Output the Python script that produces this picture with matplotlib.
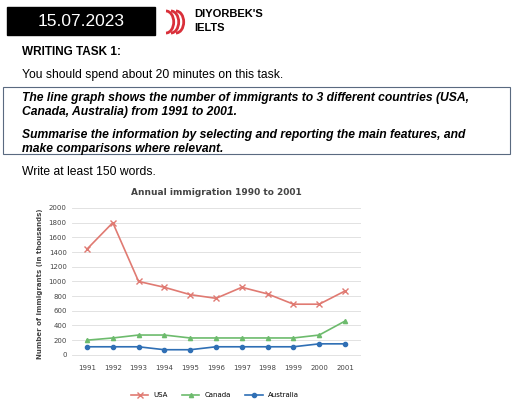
import matplotlib
matplotlib.use("Agg")
import matplotlib.pyplot as plt
from matplotlib.patches import Rectangle, Arc

years = [1991, 1992, 1993, 1994, 1995, 1996, 1997, 1998, 1999, 2000, 2001]
usa = [1440, 1800, 1000, 920, 820, 770, 920, 830, 690, 690, 870]
canada = [200, 230, 270, 270, 230, 230, 230, 230, 230, 270, 460]
australia = [110, 110, 110, 70, 70, 110, 110, 110, 110, 150, 150]
yticks = list(range(0, 2001, 200))

W, H = 512, 405
fig = plt.figure(figsize=(W/100, H/100), dpi=100)
fig.patch.set_facecolor("white")

def fx(x): return x / W
def fy(y): return 1 - y / H

# header
fig.patches.append(Rectangle((fx(7), fy(35)), fx(148), 28/H, transform=fig.transFigure, color="black"))
fig.text(fx(81), fy(21), "15.07.2023", color="white", fontsize=12.5, ha="center", va="center", family="Liberation Sans")
for cx, r in [(166, 11), (171, 11), (176, 11)]:
    fig.patches.append(Arc((fx(cx), fy(22)), 1.4*r/W, 2*r/H, theta1=-90, theta2=90,
                           transform=fig.transFigure, color="#d9303a", lw=2.0))
fig.text(fx(194), fy(14), "DIYORBEK'S", fontsize=8, fontweight="bold", va="center", family="Liberation Sans")
fig.text(fx(194), fy(28), "IELTS", fontsize=8, fontweight="bold", va="center", family="Liberation Sans")
fig.text(fx(22), fy(52), "WRITING TASK 1:", fontsize=8.5, fontweight="bold", va="center", family="Liberation Sans")
fig.text(fx(22), fy(75), "You should spend about 20 minutes on this task.", fontsize=8.7, va="center", family="Liberation Sans")
fig.patches.append(Rectangle((fx(3), fy(154)), fx(507), 67/H, transform=fig.transFigure,
                             fill=False, ec="#5a6a80", lw=0.8))
kw = dict(fontsize=8.7, fontweight="bold", style="italic", va="center", family="Liberation Sans")
fig.text(fx(22), fy(98), "The line graph shows the number of immigrants to 3 different countries (USA,", **kw)
fig.text(fx(22), fy(112), "Canada, Australia) from 1991 to 2001.", **kw)
fig.text(fx(22), fy(135), "Summarise the information by selecting and reporting the main features, and", **kw)
fig.text(fx(22), fy(149), "make comparisons where relevant.", **kw)
fig.text(fx(22), fy(172), "Write at least 150 words.", fontsize=8.7, va="center", family="Liberation Sans")

# chart
ax = fig.add_axes([fx(71.5), fy(360), 289/W, 152/H])
ax.plot(years, usa, color="#e07a72", marker="x", ms=4, lw=1.2, label="USA")
ax.plot(years, canada, color="#6dbb6d", marker="^", ms=3, lw=1.2, label="Canada")
ax.plot(years, australia, color="#2f6fb5", marker="o", ms=3, lw=1.2, label="Australia")
ax.set_xlim(1990.4, 2001.6)
ax.set_ylim(-70, 2000)
ax.set_xticks(years)
ax.set_yticks(yticks)
ax.tick_params(labelsize=5, length=0, colors="#444444")
ax.grid(axis="y", color="#dddddd", lw=0.6)
for s in ax.spines.values():
    s.set_visible(False)
ax.set_axisbelow(True)
ax.set_ylabel("Number of immigrants (in thousands)", fontsize=5, color="#444444", fontweight="bold", labelpad=4)
ax.set_title("Annual immigration 1990 to 2001", fontsize=6.5, color="#444444", fontweight="bold", pad=9)
fig.legend(loc="center", bbox_to_anchor=(fx(215), fy(395)), ncol=3, fontsize=5, frameon=False,
           handlelength=2.5, columnspacing=2)
fig.savefig("out.png", dpi=100)
